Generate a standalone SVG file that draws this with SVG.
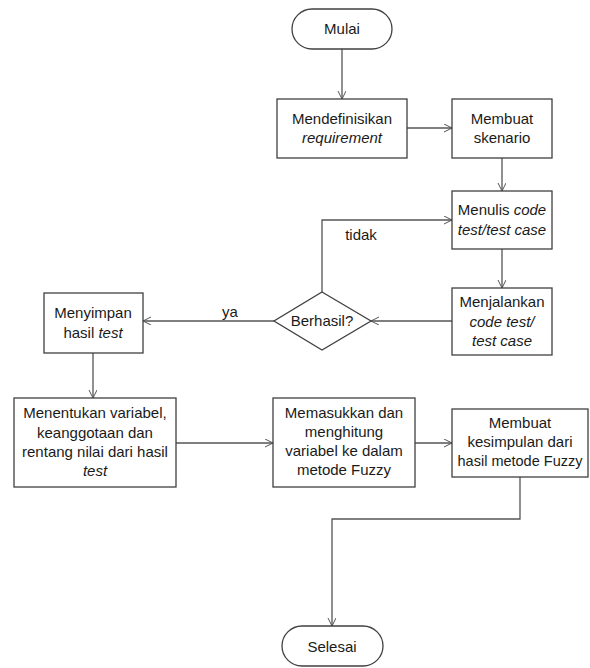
<svg xmlns="http://www.w3.org/2000/svg" width="590" height="668" viewBox="0 0 590 668">
<style>
.n{fill:#fff;stroke:#404040;stroke-width:1.3}
.t{font-family:"Liberation Sans",Arial,sans-serif;font-size:15px;fill:#1a1a1a;text-anchor:middle}
.i{font-style:italic}
.c{fill:none;stroke:#555;stroke-width:1.3}
</style>
<defs>
<marker id="a" markerWidth="10" markerHeight="10" refX="8" refY="4" orient="auto" markerUnits="userSpaceOnUse">
<path d="M0,0 L8,4 L0,8" fill="none" stroke="#555" stroke-width="1"/>
</marker>
</defs>
<rect width="590" height="668" fill="#fff"/>
<g id="connectors">
<path class="c" d="M342,49 V99" marker-end="url(#a)"/>
<path class="c" d="M407,128 H452" marker-end="url(#a)"/>
<path class="c" d="M502,158 V191" marker-end="url(#a)"/>
<path class="c" d="M502,249 V288" marker-end="url(#a)"/>
<path class="c" d="M452,321 H371" marker-end="url(#a)"/>
<path class="c" d="M274,321 H143" marker-end="url(#a)"/>
<path class="c" d="M322,292 V220 H452" marker-end="url(#a)"/>
<path class="c" d="M93,353 V398" marker-end="url(#a)"/>
<path class="c" d="M176,443 H273" marker-end="url(#a)"/>
<path class="c" d="M415,443 H452" marker-end="url(#a)"/>
<path class="c" d="M520,477 V519 H332 V626" marker-end="url(#a)"/>
<text class="t" x="361" y="240">tidak</text>
<text class="t" x="230" y="317">ya</text>
</g>
<g id="mulai">
<rect class="n" x="292" y="9" width="100" height="40" rx="20"/>
<text class="t" x="342" y="34">Mulai</text>
</g>
<g id="mendefinisikan">
<rect class="n" x="277" y="99" width="130" height="59"/>
<text class="t" x="342" y="124">Mendefinisikan</text>
<text class="t i" x="342" y="143">requirement</text>
</g>
<g id="membuat-skenario">
<rect class="n" x="452" y="99" width="100" height="59"/>
<text class="t" x="502" y="124">Membuat</text>
<text class="t" x="502" y="143">skenario</text>
</g>
<g id="menulis">
<rect class="n" x="452" y="191" width="100" height="58"/>
<text class="t" x="502" y="215">Menulis <tspan class="i">code</tspan></text>
<text class="t i" x="502" y="235">test/test case</text>
</g>
<g id="menjalankan">
<rect class="n" x="452" y="288" width="100" height="67"/>
<text class="t" x="502" y="307">Menjalankan</text>
<text class="t i" x="502" y="327">code test/</text>
<text class="t i" x="502" y="346">test case</text>
</g>
<g id="berhasil">
<polygon class="n" points="322,292 371,321 322,350 274,321"/>
<text class="t" x="322" y="326">Berhasil?</text>
</g>
<g id="menyimpan">
<rect class="n" x="44" y="293" width="99" height="60"/>
<text class="t" x="93" y="318">Menyimpan</text>
<text class="t" x="93" y="338">hasil <tspan class="i">test</tspan></text>
</g>
<g id="menentukan">
<rect class="n" x="14" y="398" width="162" height="89"/>
<text class="t" x="95" y="418">Menentukan variabel,</text>
<text class="t" x="95" y="438">keanggotaan dan</text>
<text class="t" x="95" y="457">rentang nilai dari hasil</text>
<text class="t i" x="95" y="476">test</text>
</g>
<g id="memasukkan">
<rect class="n" x="273" y="398" width="142" height="89"/>
<text class="t" x="344" y="418">Memasukkan dan</text>
<text class="t" x="344" y="437">menghitung</text>
<text class="t" x="344" y="456">variabel ke dalam</text>
<text class="t" x="344" y="475">metode Fuzzy</text>
</g>
<g id="kesimpulan">
<rect class="n" x="452" y="409" width="136" height="68"/>
<text class="t" x="520" y="428">Membuat</text>
<text class="t" x="520" y="447">kesimpulan dari</text>
<text class="t" x="520" y="466" style="font-size:14.5px">hasil metode Fuzzy</text>
</g>
<g id="selesai">
<rect class="n" x="282" y="626" width="101" height="40" rx="20"/>
<text class="t" x="332" y="652">Selesai</text>
</g>
</svg>
